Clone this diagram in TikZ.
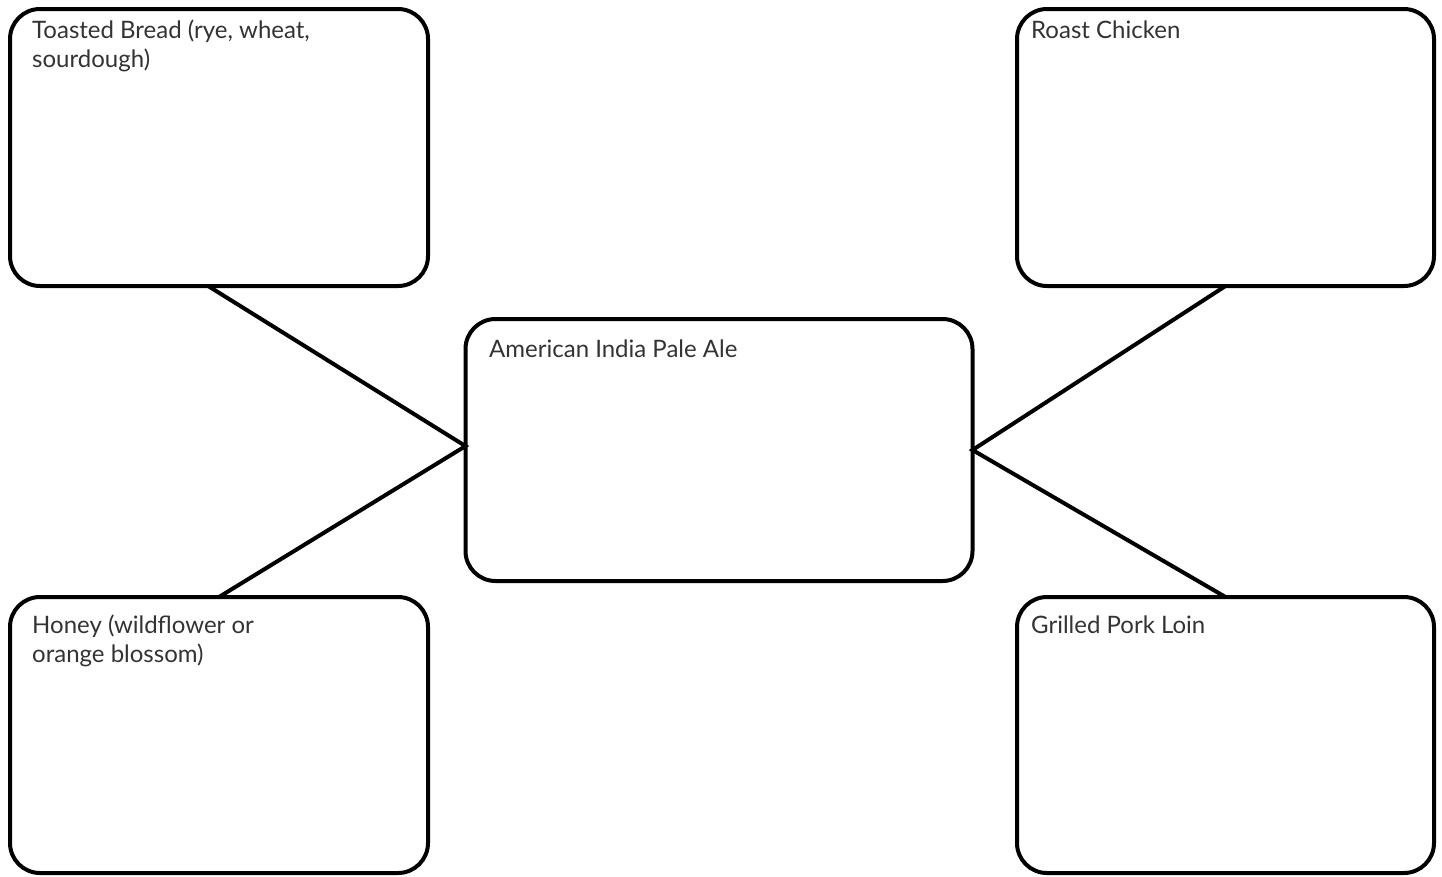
\documentclass[tikz,border=0pt]{standalone}
\usepackage{fontspec}
\setmainfont{Lato}
\usetikzlibrary{calc}
\definecolor{txtgray}{HTML}{333333}
\begin{document}
\begin{tikzpicture}[x=1pt,y=-1pt,
  boxshape/.style={draw=black, line width=4pt, rounded corners=30pt, inner sep=0pt, outer sep=0pt, rectangle},
  lbl/.style={anchor=base west, inner sep=0pt, text=txtgray, font=\fontsize{24}{29.5}\selectfont, align=left},
  link/.style={draw=black, line width=4pt}]
\useasboundingbox (0,0) rectangle (1442,876);
% boxes: corners from the reference
\node[boxshape, minimum width=418pt, minimum height=277pt] (tl) at (219,147.5) {};
\node[boxshape, minimum width=417pt, minimum height=277pt] (tr) at (1225.5,147.5) {};
\node[boxshape, minimum width=507pt, minimum height=262pt] (c) at (719,450) {};
\node[boxshape, minimum width=418pt, minimum height=276pt] (bl) at (219,735) {};
\node[boxshape, minimum width=417pt, minimum height=276pt] (br) at (1225.5,735) {};
% labels (two-line labels are anchored at their last baseline)
\node[lbl] (tlt) at (32,67.5) {Toasted Bread (rye, wheat,\\sourdough)};
\node[lbl] (trt) at (1031,38) {Roast Chicken};
\node[lbl] (ct) at (489,357) {American India Pale Ale};
\node[lbl] (blt) at (32,662.5) {Honey (wildflower or\\orange blossom)};
\node[lbl] (brt) at (1031,633) {Grilled Pork Loin};
% connectors
\draw[link] ($(tl.south west)!0.474!(tl.south east)$) -- ($(c.north west)!0.485!(c.south west)$) -- (bl.north);
\draw[link] (tr.south) -- (c.east) -- (br.north);
\end{tikzpicture}
\end{document}
